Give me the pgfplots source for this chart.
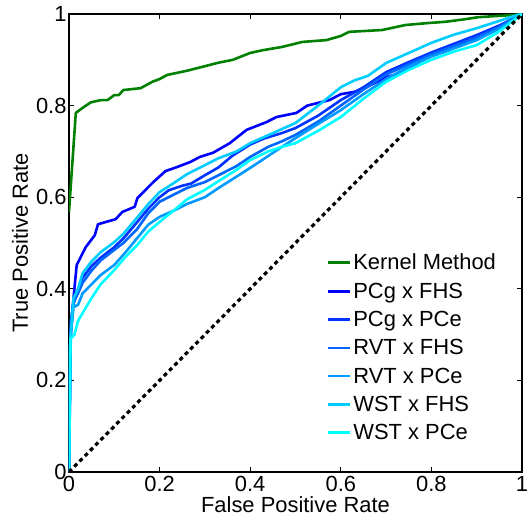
\documentclass[border=0pt]{standalone}
\usepackage{pgfplots}
\pgfplotsset{compat=1.18}
\usepackage{fontspec}
\setmainfont{Liberation Sans}

\definecolor{kgreen}{rgb}{0,0.5,0}
\definecolor{rocone}{rgb}{0,0,1}
\definecolor{roctwo}{rgb}{0,0.2,1}
\definecolor{rocthree}{rgb}{0,0.4,1}
\definecolor{rocfour}{rgb}{0,0.6,1}
\definecolor{rocfive}{rgb}{0,0.8,1}
\definecolor{rocsix}{rgb}{0,1,1}

\begin{document}
\begin{tikzpicture}
\begin{axis}[
    name=roc,
    scale only axis,
    width=453bp, height=458bp,
    xmin=0, xmax=1, ymin=0, ymax=1,
    xtick={0,0.2,...,1}, ytick={0,0.2,...,1},
    xticklabels={0,0.2,0.4,0.6,0.8,1},
    yticklabels={0,0.2,0.4,0.6,0.8,1},
    tick align=inside,
    major tick length=5bp,
    tick style={black, line width=1bp},
    axis line style={black, line width=1.4bp},
    every tick label/.append style={font=\fontsize{22}{25}\selectfont},
    /pgf/number format/assume math mode=true,
    xticklabel style={yshift=-3bp, inner ysep=1bp},
    yticklabel style={xshift=1bp},
    xlabel={False Positive Rate},
    ylabel={True Positive Rate},
    label style={font=\fontsize{22}{25}\selectfont},
    xlabel style={yshift=-3bp, inner ysep=1bp},
    ylabel style={yshift=1bp},
    legend style={at={(0.562,0.485)}, anchor=north west, draw=none, fill=none,
        font=\fontsize{22}{25}\selectfont, row sep=7.5bp,
        /tikz/every even column/.append style={column sep=6bp}},
    legend cell align=left,
    legend image code/.code={\draw[#1] (0bp,0bp) -- (22bp,0bp);},
    every axis plot/.append style={line width=2.6bp, line join=round},
]

\addplot[color=kgreen] coordinates {
(0,0.568) (0.015,0.784) (0.03,0.795) (0.048,0.807) (0.07,0.812) (0.085,0.812)
(0.10,0.823) (0.11,0.823) (0.12,0.834) (0.158,0.838) (0.184,0.852) (0.20,0.858)
(0.217,0.867) (0.26,0.876) (0.30,0.886) (0.327,0.893) (0.362,0.90) (0.40,0.915)
(0.428,0.921) (0.47,0.928) (0.515,0.939) (0.568,0.943) (0.60,0.952) (0.618,0.961)
(0.691,0.965) (0.743,0.976) (0.79,0.980) (0.831,0.983) (0.87,0.988) (0.903,0.993)
(0.95,0.996) (0.985,0.998) (1,1)};
\addlegendentry{Kernel Method}

\addplot[color=rocone] coordinates {
(0,0) (0.003,0.30) (0.01,0.38) (0.017,0.452) (0.037,0.491) (0.057,0.517)
(0.064,0.541) (0.103,0.552) (0.118,0.568) (0.145,0.579) (0.151,0.598)
(0.184,0.631) (0.213,0.657) (0.239,0.666) (0.268,0.677) (0.289,0.688)
(0.318,0.697) (0.355,0.718) (0.392,0.747) (0.436,0.764) (0.458,0.775)
(0.502,0.784) (0.526,0.80) (0.575,0.812) (0.60,0.825) (0.63,0.830)
(0.66,0.842) (0.70,0.862) (0.73,0.870) (0.76,0.888) (0.80,0.910)
(0.83,0.918) (0.86,0.930) (0.90,0.946) (0.93,0.960) (0.96,0.977) (0.98,0.99) (1,1)};
\addlegendentry{PCg x FHS}

\addplot[color=roctwo] coordinates {
(0,0) (0.003,0.28) (0.008,0.36) (0.02,0.40) (0.03,0.424) (0.05,0.45)
(0.07,0.468) (0.10,0.491) (0.12,0.51) (0.15,0.545) (0.175,0.575) (0.20,0.60)
(0.22,0.615) (0.25,0.625) (0.27,0.63) (0.30,0.648) (0.33,0.665) (0.36,0.69)
(0.40,0.715) (0.43,0.728) (0.47,0.74) (0.50,0.751) (0.55,0.778) (0.60,0.812)
(0.65,0.84) (0.70,0.873) (0.75,0.895) (0.80,0.916) (0.85,0.935) (0.90,0.954)
(0.95,0.975) (0.98,0.99) (1,1)};
\addlegendentry{PCg x PCe}

\addplot[color=rocthree] coordinates {
(0,0) (0.004,0.33) (0.01,0.37) (0.02,0.39) (0.03,0.413) (0.05,0.44)
(0.07,0.462) (0.10,0.485) (0.12,0.50) (0.15,0.53) (0.175,0.565) (0.20,0.59)
(0.23,0.605) (0.26,0.62) (0.30,0.633) (0.33,0.648) (0.37,0.668) (0.40,0.688)
(0.44,0.71) (0.47,0.722) (0.50,0.736) (0.55,0.765) (0.60,0.80) (0.65,0.835)
(0.70,0.868) (0.75,0.89) (0.80,0.912) (0.85,0.93) (0.90,0.948) (0.95,0.972)
(0.98,0.99) (1,1)};
\addlegendentry{RVT x FHS}

\addplot[color=rocfour] coordinates {
(0,0) (0.004,0.30) (0.01,0.36) (0.02,0.365) (0.03,0.39) (0.05,0.41)
(0.07,0.43) (0.10,0.452) (0.125,0.48) (0.15,0.51) (0.175,0.54) (0.20,0.557)
(0.23,0.57) (0.26,0.585) (0.30,0.60) (0.33,0.62) (0.37,0.645) (0.40,0.664)
(0.44,0.69) (0.47,0.71) (0.50,0.729) (0.55,0.76) (0.60,0.79) (0.65,0.825)
(0.70,0.858) (0.75,0.885) (0.80,0.907) (0.85,0.925) (0.90,0.943) (0.95,0.968)
(0.98,0.988) (1,1)};
\addlegendentry{RVT x PCe}

\addplot[color=rocfive] coordinates {
(0,0) (0.003,0.29) (0.01,0.38) (0.02,0.40) (0.03,0.434) (0.05,0.46)
(0.07,0.48) (0.10,0.502) (0.12,0.52) (0.15,0.555) (0.175,0.585) (0.20,0.611)
(0.23,0.63) (0.26,0.65) (0.30,0.670) (0.33,0.685) (0.37,0.70) (0.40,0.718)
(0.45,0.74) (0.50,0.762) (0.55,0.80) (0.60,0.84) (0.63,0.855) (0.66,0.865)
(0.70,0.893) (0.75,0.915) (0.80,0.937) (0.85,0.955) (0.90,0.969) (0.95,0.985)
(0.98,0.995) (1,1)};
\addlegendentry{WST x FHS}

\addplot[color=rocsix] coordinates {
(0,0) (0.003,0.29) (0.012,0.30) (0.02,0.33) (0.03,0.347) (0.05,0.38)
(0.07,0.41) (0.10,0.441) (0.125,0.47) (0.15,0.495) (0.175,0.525) (0.20,0.546)
(0.23,0.57) (0.26,0.595) (0.30,0.616) (0.33,0.635) (0.37,0.66) (0.40,0.681)
(0.44,0.70) (0.47,0.71) (0.50,0.718) (0.55,0.745) (0.60,0.775) (0.65,0.815)
(0.70,0.852) (0.75,0.878) (0.80,0.90) (0.85,0.918) (0.90,0.932) (0.95,0.962)
(0.98,0.985) (1,1)};
\addlegendentry{WST x PCe}

\addplot[black, line width=3.2bp, dash pattern=on 4bp off 3.5bp, forget plot]
    coordinates {(0,0) (1,1)};
\end{axis}
\pgfresetboundingbox
\path ([xshift=-69bp, yshift=-48bp]roc.south west) rectangle ([xshift=6bp, yshift=14bp]roc.north east);
\end{tikzpicture}
\end{document}
